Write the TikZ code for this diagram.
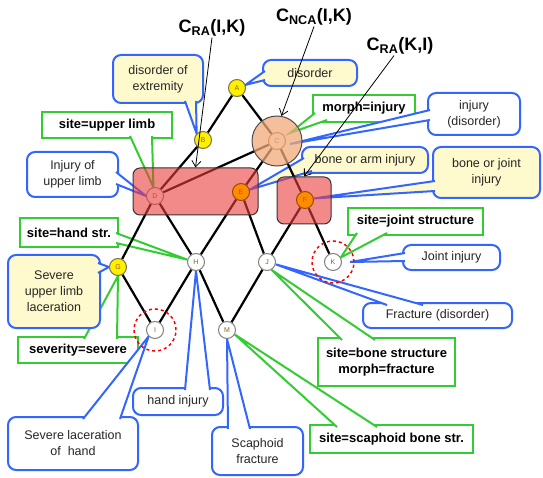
\documentclass[tikz,border=0pt]{standalone}
\usepackage{fontspec}
\setmainfont{Liberation Sans}
\usetikzlibrary{arrows.meta,calc}
\definecolor{cblue}{RGB}{51,102,255}
\definecolor{cgreen}{RGB}{51,204,51}
\definecolor{cyel}{RGB}{255,250,205}
\definecolor{nyel}{RGB}{255,240,0}
\definecolor{norange}{RGB}{255,140,0}
\definecolor{cpeach}{RGB}{240,170,120}
\definecolor{cred}{RGB}{235,60,60}
\definecolor{ntext}{RGB}{140,100,20}
\pgfdeclarelayer{callouts}
\pgfdeclarelayer{edges}
\pgfdeclarelayer{lower}
\pgfdeclarelayer{shade}
\pgfsetlayers{callouts,edges,lower,shade,main}
\tikzset{
 gnode/.style={circle, minimum size=17pt, inner sep=0pt, draw=black!50, line width=1pt, fill=white, text=ntext, font=\fontsize{7}{7}\selectfont},
 ynode/.style={gnode, fill=nyel, draw=black!45!yellow!70!black},
 onode/.style={gnode, fill=norange, draw=orange!60!black},
 edge/.style={line width=2.2pt, black},
 bbox/.style={draw=cblue, line width=2pt, rounded corners=8pt, fill=white, align=center, inner sep=0pt, font=\fontsize{12.5}{16}\selectfont, text=black!85},
 ybox/.style={bbox, fill=cyel},
 gbox/.style={draw=cgreen, line width=2pt, fill=white, align=center, inner sep=0pt, font=\fontsize{13}{16}\selectfont\bfseries, text=black},
 btail/.style={draw=cblue, line width=2pt, fill=white},
 gtail/.style={draw=cgreen, line width=2pt, fill=white},
 redbox/.style={draw=black!80, line width=1pt, rounded corners=7pt, fill=cred, fill opacity=0.6},
 toplab/.style={font=\fontsize{18}{18}\selectfont\bfseries, inner sep=1pt},
 thinarr/.style={black, line width=0.8pt, -{Straight Barb[length=6pt,width=9pt]}},
 dashring/.style={circle, draw=red, dashed, line width=1.5pt, minimum size=42pt, inner sep=0pt},
}
\begin{document}
\begin{tikzpicture}[x=1pt, y=-1pt]
\useasboundingbox (0,0) rectangle (543,478);

% graph nodes
\node[ynode] (A) at (237,88) {A};
\node[ynode] (B) at (203,140) {B};
\begin{pgfonlayer}{lower}
\node[gnode, fill=none, draw=brown!70!black] (C) at (277,141) {C};
\node[gnode] (D) at (155,196) {D};
\end{pgfonlayer}
\node[onode] (E) at (241,192) {E};
\node[onode] (F) at (305,200) {F};
\node[ynode] (G) at (118,267) {G};
\node[gnode] (H) at (196,262) {H};
\node[gnode] (I) at (155,330) {I};
\node[gnode] (J) at (267,262) {J};
\node[gnode] (K) at (333,262) {K};
\node[gnode] (M) at (227,330) {M};

% edges
\begin{pgfonlayer}{edges}
\draw[edge] (A) -- (B);
\draw[edge] (A) -- (C);
\draw[edge] (B) -- (D);
\draw[edge] (C) -- (D);
\draw[edge] (C) -- (E);
\draw[edge] (C) -- (F);
\draw[edge] (D) -- (G);
\draw[edge] (D) -- (H);
\draw[edge] (E) -- (H);
\draw[edge] (E) -- (J);
\draw[edge] (F) -- (J);
\draw[edge] (F) -- (K);
\draw[edge] (G) -- (I);
\draw[edge] (H) -- (I);
\draw[edge] (H) -- (M);
\draw[edge] (J) -- (M);
\end{pgfonlayer}

% shaded groups
\begin{pgfonlayer}{shade}
\node[redbox, minimum width=125pt, minimum height=47pt] (R1) at (195.5,191.5) {};
\node[redbox, minimum width=54pt, minimum height=47pt] (R2) at (304,200.5) {};
\node[circle, minimum size=50pt, inner sep=0pt, draw=black!70, line width=1pt, fill=cpeach, fill opacity=0.75] (P) at (C) {};
\end{pgfonlayer}

% dashed rings
\node[dashring] (dI) at (I) {};
\node[dashring] (dK) at (K) {};

% callouts
\begin{pgfonlayer}{callouts}
\node[ybox, minimum width=90pt, minimum height=48pt] (t1) at (158,79) {disorder of\\extremity};
\draw[btail, fill=cyel] (185,101) -- (B.135) -- (196,101);

\node[ybox, minimum width=94pt, minimum height=26pt] (t2) at (310,73) {disorder};
\draw[btail, fill=cyel] (265,71) -- (A.20) -- (265,80);

\node[gbox, minimum width=102pt, minimum height=27pt] (t3) at (364,108.5) {morph=injury};
\draw[gtail] (315,113) -- ($(C)+(13,-8)$) -- (327,120);

\node[bbox, minimum width=92pt, minimum height=42pt] (t4) at (474,114) {injury\\(disorder)};
\draw[btail] (430,110) -- ($(C)+(13,3)$) -- (430,120);

\node[ybox, minimum width=126pt, minimum height=26pt] (t5) at (365,160) {bone or arm injury};
\draw[btail, fill=cyel] (304,158) -- (E.15) -- (312,171);

\node[ybox, minimum width=107pt, minimum height=51pt] (t6) at (486.5,172.5) {bone or joint\\injury};
\draw[btail, fill=cyel] (435,181) -- (F.10) -- (435,191);

\node[gbox, minimum width=130pt, minimum height=26pt] (t7) at (107,125) {site=upper limb};
\draw[gtail] (130,136) -- (D.100) -- (152,136);

\node[bbox, minimum width=91pt, minimum height=45pt] (t8) at (72.5,174.5) {Injury of\\upper limb};
\draw[btail] (116,172) -- (D.west) -- (116,184);

\node[gbox, minimum width=98pt, minimum height=29pt] (t9) at (69,232.5) {site=hand str.};
\draw[gtail] (116,233) -- (H.165) -- (116,243);

\node[gbox, minimum width=120pt, minimum height=26pt] (t11) at (78,350) {severity=severe};
\draw[gtail] (84,339) -- (G.south) -- (117,339);

\node[ybox, minimum width=92pt, minimum height=73pt] (t10) at (54,291.5) {Severe\\upper limb\\laceration};
\draw[btail, fill=cyel] (98,263) -- (G.west) -- (98,273);

\node[bbox, minimum width=130pt, minimum height=53pt] (t12) at (73,443.5) {Severe laceration\\of\ \ hand};
\draw[btail] (83,419) -- (I.225) -- (120,419);

\node[bbox, minimum width=90pt, minimum height=27pt] (t13) at (178,401.5) {hand injury};
\draw[btail] (185,390) -- (H.south) -- (210,390);

\node[bbox, minimum width=91pt, minimum height=48pt] (t14) at (257.5,451) {Scaphoid\\fracture};
\draw[btail] (228,429) -- (M.south) -- (250,429);

\node[gbox, minimum width=163pt, minimum height=28pt] (t15) at (391.5,439) {site=scaphoid bone str.};
\draw[gtail] (337,427) -- (M.-30) -- (377,427);

\node[gbox, minimum width=137pt, minimum height=48pt] (t16) at (386.5,362) {site=bone structure\\morph=fracture};
\draw[gtail] (342,340) -- (J.-60) -- (375,340);

\node[bbox, minimum width=149pt, minimum height=25pt] (t17) at (437.5,315.5) {Fracture (disorder)};
\draw[btail] (387,305) -- (J.-15) -- (423,305);

\node[gbox, minimum width=135pt, minimum height=27pt] (t18) at (415.5,221.5) {site=joint structure};
\draw[gtail] (357,233) -- (K.30) -- (387,233);

\node[bbox, minimum width=97pt, minimum height=25pt] (t19) at (451.5,257.5) {Joint injury};
\draw[btail] (405,253) -- ($(K.east)+(8,0)$) -- (405,261);
\end{pgfonlayer}

% top labels and arrows
\node[toplab] (L1) at (212,28) {C\textsubscript{RA}(I,K)};
\node[toplab] (L2) at (314,17) {C\textsubscript{NCA}(I,K)};
\node[toplab] (L3) at (400,46) {C\textsubscript{RA}(K,I)};
\draw[thinarr] (L1.south) -- (R1.north);
\draw[thinarr] (L2.south) -- (P.80);
\draw[thinarr] ($(L3.south)+(-6,0)$) -- (R2.north);
\end{tikzpicture}
\end{document}
